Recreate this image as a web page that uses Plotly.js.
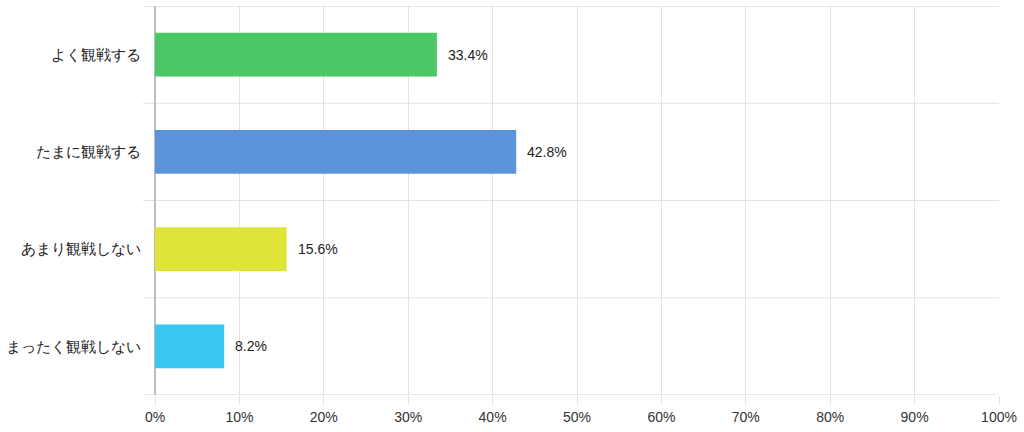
<!DOCTYPE html>
<html>
<head>
<meta charset="utf-8">
<script src="https://cdn.plot.ly/plotly-3.0.1.min.js"></script>
<style>
  html, body { margin: 0; padding: 0; background: #fff; }
  #chart { width: 1024px; height: 432px; }
</style>
</head>
<body>
<div id="chart"></div>
<script>
// 観戦頻度 (%)
const categories = ['よく観戦する', 'たまに観戦する', 'あまり観戦しない', 'まったく観戦しない'];
const shares = [33.4, 42.8, 15.6, 8.2];
const barColors = ['#4cc766', '#5b94da', '#e0e438', '#38c7f0'];
const xTicks = [0, 10, 20, 30, 40, 50, 60, 70, 80, 90, 100];
const xTickLabels = xTicks.map(v => v + '%');

const gridColor = '#e2e2e2';

const trace = {
    type: 'bar',
    orientation: 'h',
    x: shares,
    y: categories,
    width: 0.45,
    marker: { color: barColors },
    hoverinfo: 'none'
};

// 値ラベル (バーの右側)
const valueLabels = shares.map((v, i) => ({
    x: v,
    y: categories[i],
    xref: 'x',
    yref: 'y',
    text: v.toFixed(1) + '%',
    showarrow: false,
    xanchor: 'left',
    xshift: 9,
    font: { size: 14, color: '#222' }
}));

// カテゴリ境界の横線 (左に少しはみ出す)
const boundaryLines = [];
for (let i = 0; i <= categories.length; i++) {
    boundaryLines.push({
        type: 'line',
        xref: 'paper',
        yref: 'y',
        x0: -0.0142,
        x1: 1,
        y0: i - 0.5,
        y1: i - 0.5,
        line: { color: i === 0 || i === categories.length ? '#d2d2d2' : gridColor, width: 1 },
        layer: 'below'
    });
}

const layout = {
    width: 1024,
    height: 432,
    margin: { l: 155, r: 25, t: 6, b: 37 },
    paper_bgcolor: '#fff',
    plot_bgcolor: '#fff',
    font: { family: 'Liberation Sans, Arial, sans-serif', size: 14, color: '#222' },
    showlegend: false,
    annotations: valueLabels,
    shapes: boundaryLines,
    xaxis: {
        range: [0, 100],
        tickvals: xTicks,
        ticktext: xTickLabels,
        tickfont: { size: 14, color: '#333' },
        ticks: 'outside',
        ticklen: 9,
        tickcolor: gridColor,
        tickwidth: 1,
        showgrid: true,
        gridcolor: gridColor,
        gridwidth: 1,
        zeroline: true,
        zerolinecolor: '#bdbdbd',
        zerolinewidth: 2,
        showline: false,
        fixedrange: true
    },
    yaxis: {
        type: 'category',
        autorange: false,
        range: [categories.length - 0.5, -0.5],
        ticks: '',
        ticklabelstandoff: 13,
        tickfont: { size: 15, color: '#222' },
        showgrid: false,
        showline: false,
        zeroline: false,
        fixedrange: true
    }
};

Plotly.newPlot('chart', [trace], layout, { displayModeBar: false, staticPlot: true });
</script>
</body>
</html>
